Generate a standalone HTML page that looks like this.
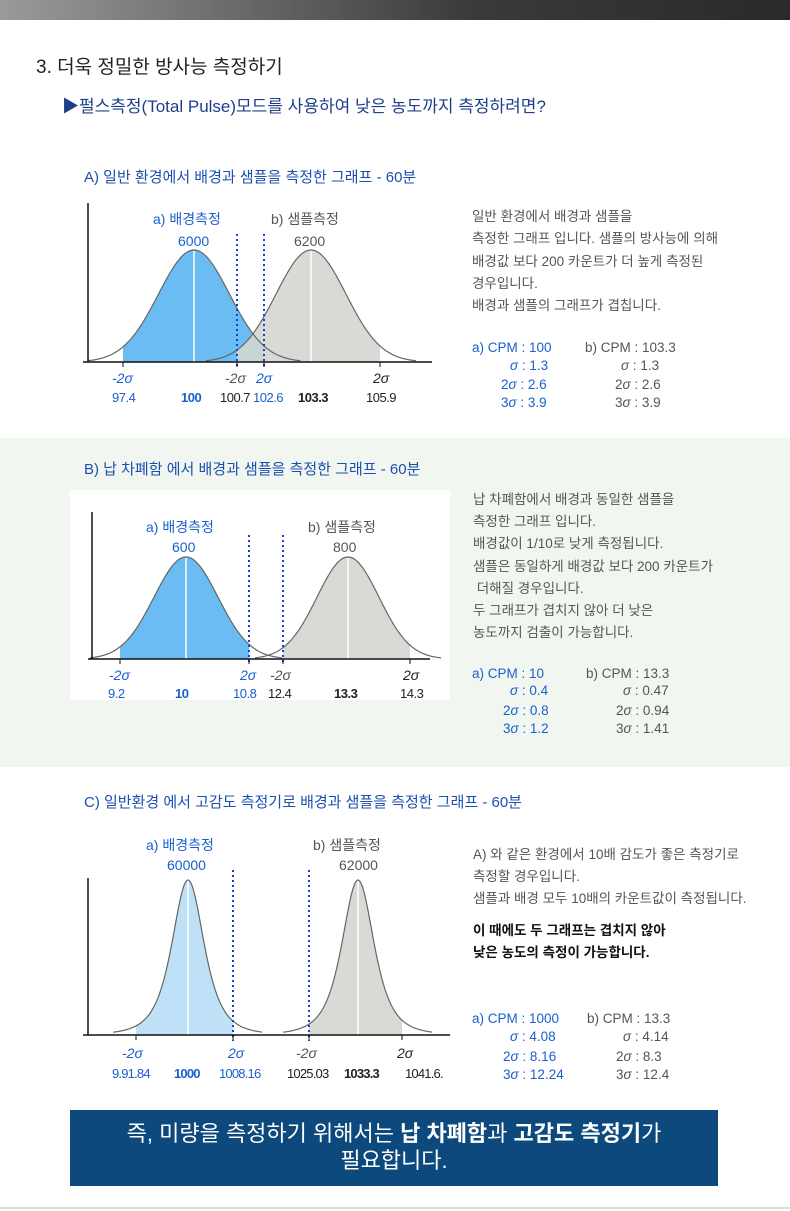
<!DOCTYPE html>
<html><head><meta charset="utf-8"><style>
body{margin:0;width:790px;height:1211px;position:relative;background:#fff;overflow:hidden;font-family:"Liberation Sans","Noto Sans CJK KR",sans-serif;}
.t{position:absolute;white-space:nowrap;line-height:1;}
.b{color:#1a5fd0}.g{color:#555}.k{color:#222}
svg{position:absolute;left:0;top:0}
</style></head><body>
<div style="position:absolute;left:0;top:0;width:790px;height:20px;background:linear-gradient(90deg,#9a9a9a,#3a3a3a 60%,#2a2a2a)"></div>
<div style="position:absolute;left:0;top:438px;width:790px;height:329px;background:#f1f7f0"></div>
<div style="position:absolute;left:70px;top:490px;width:380px;height:210px;background:#fff"></div>
<div style="position:absolute;left:0;top:1207px;width:790px;height:2px;background:#ddd"></div>
<svg id="s" width="790" height="1211"></svg>

<div class="t k" style="left:36px;top:58px;font-size:19px">3. 더욱 정밀한 방사능 측정하기</div>
<div class="t" style="left:62px;top:98px;font-size:17px;color:#1d3f8a">▶펄스측정(Total Pulse)모드를 사용하여 낮은 농도까지 측정하려면?</div>

<div class="t" style="left:84px;top:170px;font-size:15px;color:#1a4fb0">A) 일반 환경에서 배경과 샘플을 측정한 그래프 - 60분</div>
<div class="t b" style="left:153px;top:212px;font-size:14px">a) 배경측정</div>
<div class="t b" style="left:178px;top:234px;font-size:14px">6000</div>
<div class="t g" style="left:271px;top:212px;font-size:14px">b) 샘플측정</div>
<div class="t g" style="left:294px;top:234px;font-size:14px">6200</div>
<div class="t b" style="left:112px;top:371px;font-size:14px;font-style:italic">-2σ</div>
<div class="t g" style="left:225px;top:371px;font-size:14px;font-style:italic">-2σ</div>
<div class="t b" style="left:256px;top:371px;font-size:14px;font-style:italic">2σ</div>
<div class="t k" style="left:373px;top:371px;font-size:14px;font-style:italic">2σ</div>
<div class="t b" style="left:112px;top:391px;font-size:13px;letter-spacing:-0.5px">97.4</div>
<div class="t b" style="left:181px;top:391px;font-size:13px;font-weight:bold;letter-spacing:-0.5px">100</div>
<div class="t k" style="left:220px;top:391px;font-size:13px;letter-spacing:-0.5px">100.7</div>
<div class="t b" style="left:253px;top:391px;font-size:13px;letter-spacing:-0.5px">102.6</div>
<div class="t k" style="left:298px;top:391px;font-size:13px;font-weight:bold;letter-spacing:-0.5px">103.3</div>
<div class="t k" style="left:366px;top:391px;font-size:13px;letter-spacing:-0.5px">105.9</div>
<div class="t g" style="left:472px;top:206px;font-size:13.5px;line-height:22.3px">일반 환경에서 배경과 샘플을<br>측정한 그래프 입니다. 샘플의 방사능에 의해<br>배경값 보다 200 카운트가 더 높게 측정된<br>경우입니다.<br>배경과 샘플의 그래프가 겹칩니다.</div>
<div class="t b" style="left:472px;top:341px;font-size:13.5px">a) CPM : 100</div>
<div class="t b" style="left:510px;top:359px;font-size:13.5px"><i>σ</i> : 1.3</div>
<div class="t b" style="left:501px;top:376px;font-size:13.5px;line-height:17.7px">2<i>σ</i> : 2.6<br>3<i>σ</i> : 3.9</div>
<div class="t g" style="left:585px;top:341px;font-size:13.5px">b) CPM : 103.3</div>
<div class="t g" style="left:621px;top:359px;font-size:13.5px"><i>σ</i> : 1.3</div>
<div class="t g" style="left:615px;top:376px;font-size:13.5px;line-height:17.7px">2<i>σ</i> : 2.6<br>3<i>σ</i> : 3.9</div>

<div class="t" style="left:84px;top:462px;font-size:15px;color:#1a4fb0">B) 납 차폐함 에서 배경과 샘플을 측정한 그래프 - 60분</div>
<div class="t b" style="left:146px;top:520px;font-size:14px">a) 배경측정</div>
<div class="t b" style="left:172px;top:540px;font-size:14px">600</div>
<div class="t g" style="left:308px;top:520px;font-size:14px">b) 샘플측정</div>
<div class="t g" style="left:333px;top:540px;font-size:14px">800</div>
<div class="t b" style="left:109px;top:668px;font-size:14px;font-style:italic">-2σ</div>
<div class="t b" style="left:240px;top:668px;font-size:14px;font-style:italic">2σ</div>
<div class="t g" style="left:270px;top:668px;font-size:14px;font-style:italic">-2σ</div>
<div class="t k" style="left:403px;top:668px;font-size:14px;font-style:italic">2σ</div>
<div class="t b" style="left:108px;top:687px;font-size:13px;letter-spacing:-0.5px">9.2</div>
<div class="t b" style="left:175px;top:687px;font-size:13px;font-weight:bold;letter-spacing:-0.5px">10</div>
<div class="t b" style="left:233px;top:687px;font-size:13px;letter-spacing:-0.5px">10.8</div>
<div class="t k" style="left:268px;top:687px;font-size:13px;letter-spacing:-0.5px">12.4</div>
<div class="t k" style="left:334px;top:687px;font-size:13px;font-weight:bold;letter-spacing:-0.5px">13.3</div>
<div class="t k" style="left:400px;top:687px;font-size:13px;letter-spacing:-0.5px">14.3</div>
<div class="t g" style="left:473px;top:489px;font-size:13.5px;line-height:22.2px">납 차폐함에서 배경과 동일한 샘플을<br>측정한 그래프 입니다.<br>배경값이 1/10로 낮게 측정됩니다.<br>샘플은 동일하게 배경값 보다 200 카운트가<br>&nbsp;더해질 경우입니다.<br>두 그래프가 겹치지 않아 더 낮은<br>농도까지 검출이 가능합니다.</div>
<div class="t b" style="left:472px;top:667px;font-size:13.5px">a) CPM : 10</div>
<div class="t b" style="left:510px;top:684px;font-size:13.5px"><i>σ</i> : 0.4</div>
<div class="t b" style="left:503px;top:702px;font-size:13.5px;line-height:17.7px">2<i>σ</i> : 0.8<br>3<i>σ</i> : 1.2</div>
<div class="t g" style="left:586px;top:667px;font-size:13.5px">b) CPM : 13.3</div>
<div class="t g" style="left:623px;top:684px;font-size:13.5px"><i>σ</i> : 0.47</div>
<div class="t g" style="left:616px;top:702px;font-size:13.5px;line-height:17.7px">2<i>σ</i> : 0.94<br>3<i>σ</i> : 1.41</div>

<div class="t" style="left:84px;top:795px;font-size:15px;color:#1a4fb0">C) 일반환경 에서 고감도 측정기로 배경과 샘플을 측정한 그래프 - 60분</div>
<div class="t b" style="left:146px;top:838px;font-size:14px">a) 배경측정</div>
<div class="t b" style="left:167px;top:858px;font-size:14px">60000</div>
<div class="t g" style="left:313px;top:838px;font-size:14px">b) 샘플측정</div>
<div class="t g" style="left:339px;top:858px;font-size:14px">62000</div>
<div class="t b" style="left:122px;top:1046px;font-size:14px;font-style:italic">-2σ</div>
<div class="t b" style="left:228px;top:1046px;font-size:14px;font-style:italic">2σ</div>
<div class="t g" style="left:296px;top:1046px;font-size:14px;font-style:italic">-2σ</div>
<div class="t k" style="left:397px;top:1046px;font-size:14px;font-style:italic">2σ</div>
<div class="t b" style="left:112px;top:1067px;font-size:13px;letter-spacing:-0.8px">9.91.84</div>
<div class="t b" style="left:174px;top:1067px;font-size:13px;font-weight:bold;letter-spacing:-0.8px">1000</div>
<div class="t b" style="left:219px;top:1067px;font-size:13px;letter-spacing:-0.8px">1008.16</div>
<div class="t k" style="left:287px;top:1067px;font-size:13px;letter-spacing:-0.8px">1025.03</div>
<div class="t k" style="left:344px;top:1067px;font-size:13px;font-weight:bold;letter-spacing:-0.8px">1033.3</div>
<div class="t k" style="left:405px;top:1067px;font-size:13px;letter-spacing:-0.8px">1041.6.</div>
<div class="t g" style="left:473px;top:844px;font-size:13.5px;line-height:22px">A) 와 같은 환경에서 10배 감도가 좋은 측정기로<br>측정할 경우입니다.<br>샘플과 배경 모두 10배의 카운트값이 측정됩니다.</div>
<div class="t" style="left:473px;top:920px;font-size:13.5px;line-height:22px;color:#111;font-weight:bold">이 때에도 두 그래프는 겹치지 않아<br>낮은 농도의 측정이 가능합니다.</div>
<div class="t b" style="left:472px;top:1012px;font-size:13.5px">a) CPM : 1000</div>
<div class="t b" style="left:510px;top:1030px;font-size:13.5px"><i>σ</i> : 4.08</div>
<div class="t b" style="left:503px;top:1048px;font-size:13.5px;line-height:17.7px">2<i>σ</i> : 8.16<br>3<i>σ</i> : 12.24</div>
<div class="t g" style="left:587px;top:1012px;font-size:13.5px">b) CPM : 13.3</div>
<div class="t g" style="left:623px;top:1030px;font-size:13.5px"><i>σ</i> : 4.14</div>
<div class="t g" style="left:616px;top:1048px;font-size:13.5px;line-height:17.7px">2<i>σ</i> : 8.3<br>3<i>σ</i> : 12.4</div>

<div style="position:absolute;left:70px;top:1110px;width:648px;height:76px;background:#0d497d;color:#fff;font-size:22px;text-align:center;line-height:27px;padding-top:10px;box-sizing:border-box">즉, 미량을 측정하기 위해서는 <b>납 차폐함</b>과 <b>고감도 측정기</b>가<br>필요합니다.</div>

<script>
var s=document.getElementById('s'),h='';
function L(x1,y1,x2,y2,st){h+='<line x1="'+x1+'" y1="'+y1+'" x2="'+x2+'" y2="'+y2+'" style="'+st+'"/>';}
function curve(c,sg,base,peak,x0,x1,f){var p='';for(var x=x0;x<=x1;x+=1){var y=base-(base-peak)*f((x-c)/sg);p+=(p?'L':'M')+x.toFixed(1)+' '+y.toFixed(1);}return p;}
function fill(c,sg,base,peak,a,b,f,col,op){var p='M'+a+' '+base;for(var x=a;x<=b;x+=1){p+='L'+x+' '+(base-(base-peak)*f((x-c)/sg)).toFixed(1);}p+='L'+b+' '+base+'Z';h+='<path d="'+p+'" fill="'+col+'" fill-opacity="'+op+'"/>';}
var G=function(z){return Math.exp(-z*z/2)};
var C=function(z){return Math.pow(1+z*z/3,-2)};
function chart(ax,top,base,x0,x1,a,b,f,dl,bc,ext){
 fill(a[0],a[1],base,a[2],a[3],a[4],f,bc,1);
 fill(b[0],b[1],base,b[2],b[3],b[4],f,'#d4d7d0',0.9);
 h+='<path d="'+curve(a[0],a[1],base,a[2],a[0]-a[1]*ext,a[0]+a[1]*ext,f)+'" fill="none" stroke="#666" stroke-width="1.2"/>';
 h+='<path d="'+curve(b[0],b[1],base,b[2],b[0]-b[1]*ext,b[0]+b[1]*ext,f)+'" fill="none" stroke="#666" stroke-width="1.2"/>';
 L(a[0],a[2]+1,a[0],base,'stroke:#fff;stroke-width:1.5');L(b[0],b[2]+1,b[0],base,'stroke:#fff;stroke-width:1.5');
 dl.forEach(function(d){L(d[0],d[1],d[0],base+6,'stroke:#1a3fcf;stroke-width:2;stroke-dasharray:2 3');});
 L(ax,top,ax,base,'stroke:#111;stroke-width:1.5');L(x0,base,x1,base,'stroke:#111;stroke-width:1.5');
}
chart(88,203,362,83,432,[194,35.5,250,123,264],[311,35,250,237,380],G,[[237,234],[264,234]],'#6bbcf2',3);
chart(92,512,659,88,430,[186,32,557,120,249],[348,31,557,283,410],G,[[249,535],[283,535]],'#6bbcf2',3);
chart(88,878,1035,83,450,[188,17,880,136,233],[358,17,880,309,402],C,[[233,870],[309,870]],'#bfe1f7',4.4);
[123,264,237,380,120,249,283,410,136,233,309,402].forEach(function(x,i){var y=i<4?362:i<8?659:1035;L(x,y,x,y+5,'stroke:#111;stroke-width:1');});
s.innerHTML=h;
</script>
</body></html>
